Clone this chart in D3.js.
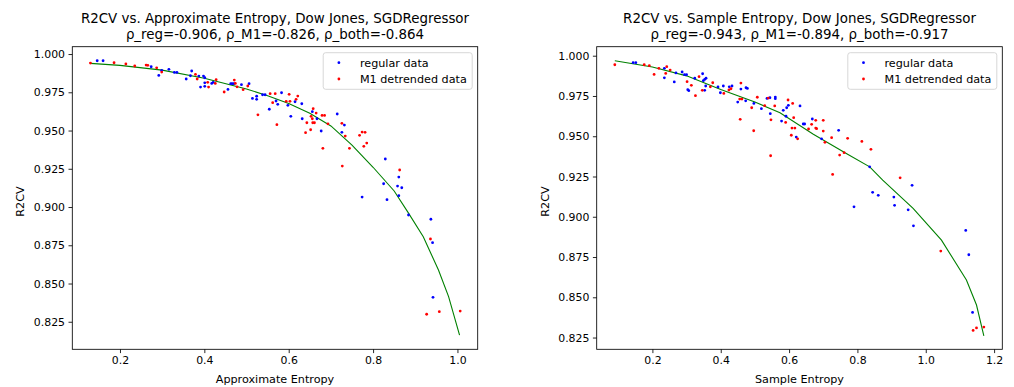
<!DOCTYPE html>
<html lang="en">
<head>
<meta charset="UTF-8">
<title>R2CV vs entropy</title>
<script src="https://d3js.org/d3.v7.min.js"></script>
<style>
    body {margin:0;background:#fff}
    svg {font-family:"DejaVu Sans", sans-serif}
</style>
</head>
<body>
<div id="chart"></div>
<script>
// values
var apenRegular = [[0.146,0.9956],[0.160,0.9956],[0.274,0.9917],[0.292,0.986],[0.299,0.9893],[0.316,0.990],[0.329,0.988],[0.335,0.988],[0.357,0.9837],[0.367,0.9858],[0.370,0.9889],[0.387,0.9856],[0.391,0.9784],[0.398,0.9856],[0.401,0.9845],[0.401,0.9812],[0.401,0.9789],[0.4175,0.9808],[0.421,0.9815],[0.456,0.9769],[0.4625,0.9806],[0.466,0.9806],[0.470,0.9806],[0.488,0.980],[0.506,0.9806],[0.514,0.971],[0.524,0.9724],[0.524,0.9704],[0.538,0.9734],[0.544,0.9734],[0.583,0.9747],[0.570,0.9693],[0.574,0.9671],[0.598,0.9665],[0.615,0.9688],[0.631,0.9675],[0.554,0.9639],[0.605,0.9593],[0.656,0.9623],[0.632,0.9577],[0.667,0.9577],[0.677,0.9497],[0.715,0.9608],[0.732,0.9536],[0.726,0.9488],[0.829,0.9314],[0.825,0.9152],[0.858,0.9137],[0.861,0.9196],[0.868,0.9126],[0.774,0.9065],[0.833,0.9048],[0.861,0.9074],[0.884,0.8948],[0.937,0.892],[0.941,0.8767],[0.942,0.841]];
var apenM1 = [[0.130,0.9941],[0.186,0.9943],[0.214,0.9935],[0.235,0.9922],[0.262,0.9928],[0.266,0.9926],[0.287,0.991],[0.299,0.9882],[0.379,0.9867],[0.383,0.9837],[0.408,0.9815],[0.410,0.9784],[0.426,0.9808],[0.428,0.9832],[0.447,0.9752],[0.471,0.983],[0.4735,0.9808],[0.4775,0.9786],[0.492,0.9767],[0.503,0.9791],[0.527,0.9603],[0.556,0.9741],[0.568,0.9741],[0.562,0.9682],[0.594,0.9691],[0.603,0.9691],[0.601,0.9737],[0.6175,0.9704],[0.6215,0.9725],[0.572,0.9538],[0.658,0.9643],[0.665,0.9614],[0.653,0.9593],[0.656,0.9577],[0.679,0.9599],[0.685,0.9599],[0.643,0.9551],[0.657,0.9551],[0.661,0.9551],[0.652,0.9505],[0.640,0.9486],[0.693,0.9544],[0.681,0.9384],[0.726,0.9547],[0.734,0.9464],[0.744,0.9384],[0.727,0.9268],[0.768,0.9469],[0.774,0.949],[0.781,0.9488],[0.785,0.9418],[0.778,0.9397],[0.863,0.9242],[0.936,0.8791],[0.927,0.8299],[0.957,0.8316],[1.0065,0.832]];
var apenFit = [[0.13,0.9939],[0.2,0.9926],[0.3,0.9895],[0.4,0.9842],[0.5,0.9771],[0.55,0.9728],[0.6,0.9676],[0.65,0.9613],[0.7,0.953],[0.75,0.9405],[0.8,0.926],[0.85,0.9105],[0.884,0.896],[0.919,0.8806],[0.955,0.8588],[0.979,0.8414],[1.005,0.8163]];

var sampenRegular = [[0.1436,0.9957],[0.1515,0.9957],[0.235,0.9922],[0.235,0.9863],[0.264,0.9837],[0.269,0.9893],[0.287,0.9899],[0.294,0.9882],[0.300,0.9882],[0.3035,0.9789],[0.3065,0.9783],[0.324,0.986],[0.347,0.9888],[0.349,0.9845],[0.353,0.9853],[0.357,0.986],[0.353,0.9785],[0.356,0.9812],[0.392,0.9806],[0.399,0.977],[0.4076,0.9812],[0.425,0.9807],[0.433,0.9812],[0.4497,0.9712],[0.459,0.9793],[0.473,0.972],[0.474,0.9801],[0.478,0.9797],[0.497,0.9704],[0.519,0.9671],[0.5354,0.9735],[0.544,0.9739],[0.545,0.964],[0.5597,0.9743],[0.5597,0.9733],[0.583,0.9661],[0.593,0.9677],[0.598,0.9692],[0.578,0.9594],[0.591,0.9624],[0.632,0.9688],[0.621,0.9495],[0.6415,0.9576],[0.6456,0.9576],[0.668,0.9607],[0.695,0.9484],[0.745,0.9537],[0.8357,0.931],[0.960,0.9195],[0.790,0.9062],[0.8445,0.9152],[0.861,0.9133],[0.9067,0.9122],[0.9088,0.9071],[0.9485,0.9043],[0.964,0.8944],[1.117,0.8915],[1.126,0.8764],[1.137,0.8406]];
var sampenM1 = [[0.090,0.9944],[0.176,0.9944],[0.191,0.9938],[0.205,0.9884],[0.219,0.9922],[0.242,0.9932],[0.239,0.989],[0.252,0.9911],[0.3015,0.9839],[0.314,0.9816],[0.326,0.9752],[0.3365,0.987],[0.346,0.9785],[0.3696,0.9807],[0.3766,0.9832],[0.409,0.9766],[0.424,0.9787],[0.430,0.9795],[0.4555,0.9731],[0.462,0.9731],[0.459,0.983],[0.457,0.9605],[0.4906,0.9677],[0.4965,0.9534],[0.507,0.9742],[0.5287,0.969],[0.539,0.9737],[0.547,0.9602],[0.546,0.9379],[0.558,0.9688],[0.597,0.9725],[0.6105,0.9704],[0.590,0.9586],[0.6135,0.9615],[0.6085,0.9551],[0.617,0.9551],[0.6065,0.9506],[0.625,0.9484],[0.666,0.9574],[0.657,0.9545],[0.678,0.9599],[0.678,0.9551],[0.6807,0.9547],[0.700,0.9599],[0.700,0.9532],[0.705,0.9462],[0.7245,0.9491],[0.761,0.9398],[0.748,0.9383],[0.7713,0.9487],[0.813,0.9468],[0.8395,0.9419],[0.7275,0.9263],[0.925,0.9242],[1.044,0.8787],[1.1386,0.8294],[1.1485,0.831],[1.170,0.8315]];
var sampenFit = [[0.09,0.9969],[0.2,0.993],[0.3,0.9875],[0.4,0.979],[0.5,0.9712],[0.5734,0.9646],[0.671,0.9512],[0.77,0.939],[0.836,0.931],[0.874,0.9228],[0.963,0.9052],[1.046,0.8855],[1.119,0.8607],[1.1485,0.8452],[1.17,0.8261]];

var yTicks = [0.825, 0.850, 0.875, 0.900, 0.925, 0.950, 0.975, 1.000];
var apenXTicks = [0.2, 0.4, 0.6, 0.8, 1.0];
var sampenXTicks = [0.2, 0.4, 0.6, 0.8, 1.0, 1.2];
var legendLabels = ["regular data", "M1 detrended data"];

var svg = d3.select("#chart").append("svg")
    .attr("width", 1014)
    .attr("height", 387);

function drawPanel(p) {
    var x = d3.scaleLinear().domain(p.xDomain).range([p.left, p.right]);
    var y = d3.scaleLinear().domain(p.yDomain).range([349.3, 46.7]);
    var g = svg.append("g");

    var xAxis = g.append("g")
        .attr("transform", "translate(0,349.3)")
        .call(d3.axisBottom(x).tickValues(p.xTicks).tickFormat(d3.format(".1f"))
            .tickSize(3.8).tickPadding(3.5).tickSizeOuter(0));
    var yAxis = g.append("g")
        .attr("transform", `translate(${p.left},0)`)
        .call(d3.axisLeft(y).tickValues(yTicks).tickFormat(d3.format(".3f"))
            .tickSize(3.8).tickPadding(3.5).tickSizeOuter(0));
    [xAxis, yAxis].forEach(function(a) {
        a.select(".domain").remove();
        a.selectAll("text").attr("font-family", "DejaVu Sans").attr("font-size", "10.9px").attr("fill", "#000");
        a.selectAll("line").attr("stroke", "#000").attr("stroke-width", 0.85);
    });

    var line = d3.line().x(d => x(d[0])).y(d => y(d[1]));
    g.append("path")
        .datum(p.fit)
        .attr("d", line)
        .attr("fill", "none")
        .attr("stroke", "green")
        .attr("stroke-width", 1.1);

    g.selectAll("circle.reg")
        .data(p.regular)
        .enter()
        .append("circle")
        .attr("class", "reg")
        .attr("cx", d => x(d[0]))
        .attr("cy", d => y(d[1]))
        .attr("r", 1.4)
        .attr("fill", "blue");

    g.selectAll("circle.m1")
        .data(p.m1)
        .enter()
        .append("circle")
        .attr("class", "m1")
        .attr("cx", d => x(d[0]))
        .attr("cy", d => y(d[1]))
        .attr("r", 1.4)
        .attr("fill", "red");

    g.append("rect")
        .attr("x", p.left)
        .attr("y", 46.7)
        .attr("width", p.right - p.left)
        .attr("height", 349.3 - 46.7)
        .attr("fill", "none")
        .attr("stroke", "#000")
        .attr("stroke-width", 0.85);

    // legend
    var lx = p.right - 154.5;
    var leg = g.append("g");
    leg.append("rect")
        .attr("x", lx)
        .attr("y", 52.7)
        .attr("width", 149)
        .attr("height", 36.6)
        .attr("rx", 2.5)
        .attr("fill", "#fff")
        .attr("fill-opacity", 0.8)
        .attr("stroke", "#d0d0d0")
        .attr("stroke-width", 0.85);
    leg.selectAll("circle")
        .data(legendLabels)
        .enter()
        .append("circle")
        .attr("cx", lx + 15.7)
        .attr("cy", (d, i) => 62.7 + i * 16.3)
        .attr("r", 1.4)
        .attr("fill", (d, i) => i === 0 ? "blue" : "red");
    leg.selectAll("text")
        .data(legendLabels)
        .enter()
        .append("text")
        .attr("x", lx + 36.7)
        .attr("y", (d, i) => 66.6 + i * 16.3)
        .attr("font-size", "11.2px")
        .text(d => d);

    var cx = (p.left + p.right) / 2;
    g.append("text")
        .attr("x", cx)
        .attr("y", 23)
        .attr("text-anchor", "middle")
        .attr("font-size", "13.4px")
        .text(p.title);
    g.append("text")
        .attr("x", cx)
        .attr("y", 38.8)
        .attr("text-anchor", "middle")
        .attr("font-size", "13.4px")
        .text(p.subtitle);

    g.append("text")
        .attr("x", cx)
        .attr("y", 382.5)
        .attr("text-anchor", "middle")
        .attr("font-size", "11.2px")
        .text(p.xLabel);
    g.append("text")
        .attr("transform", `translate(${p.left - 48},201.5) rotate(-90)`)
        .attr("text-anchor", "middle")
        .attr("font-size", "11.2px")
        .text("R2CV");
}

drawPanel({
    left: 72.3, right: 477.7,
    xDomain: [0.087, 1.048], yDomain: [0.807, 1.0048],
    xTicks: apenXTicks,
    regular: apenRegular, m1: apenM1, fit: apenFit,
    title: "R2CV vs. Approximate Entropy, Dow Jones, SGDRegressor",
    subtitle: "ρ_reg=-0.906, ρ_M1=-0.826, ρ_both=-0.864",
    xLabel: "Approximate Entropy"
});

drawPanel({
    left: 596.7, right: 1002.3,
    xDomain: [0.037, 1.224], yDomain: [0.8177, 1.0056],
    xTicks: sampenXTicks,
    regular: sampenRegular, m1: sampenM1, fit: sampenFit,
    title: "R2CV vs. Sample Entropy, Dow Jones, SGDRegressor",
    subtitle: "ρ_reg=-0.943, ρ_M1=-0.894, ρ_both=-0.917",
    xLabel: "Sample Entropy"
});
</script>
</body>
</html>
